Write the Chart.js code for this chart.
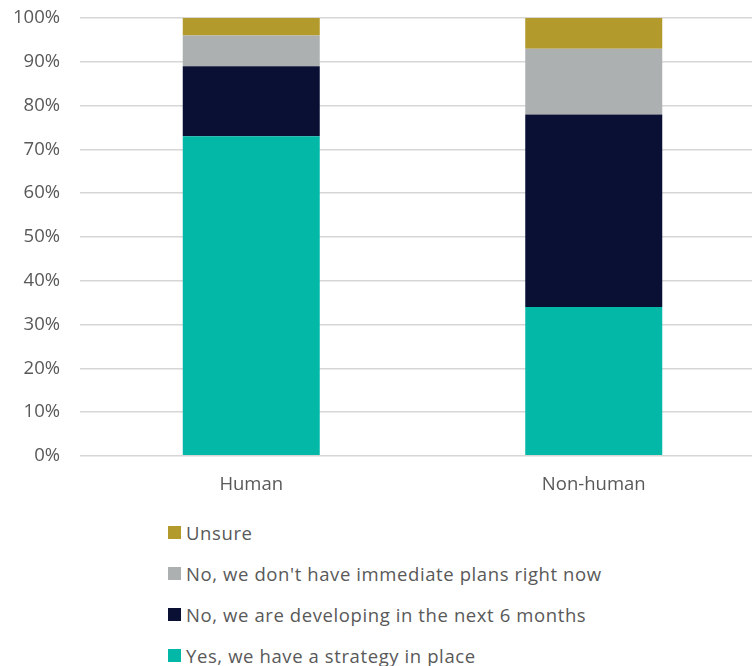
<!DOCTYPE html>
<html>
<head>
<meta charset="utf-8">
<script src="https://cdn.jsdelivr.net/npm/chart.js@4/dist/chart.umd.min.js"></script>
<style>
  html, body { margin: 0; padding: 0; background: #fff; }
  body { position: relative; width: 752px; height: 666px; overflow: hidden; font-family: 'Open Sans', sans-serif; }
  /* plot runs a little past the right edge so the bars sit where they should */
  .chart-wrap { position: absolute; left: 0; top: -13px; width: 765px; height: 526px; }
  #legend { list-style: none; margin: 0; padding: 0; position: absolute; left: 168px; top: 519px; }
  #legend li { display: flex; align-items: center; height: 26px; margin-bottom: 15px; color: #595959; font-size: 18.5px; letter-spacing: 0.6px; }
  #legend .swatch { width: 13px; height: 13px; margin-right: 5px; flex: none; }
</style>
</head>
<body>
<div class="chart-wrap"><canvas id="strategyChart"></canvas></div>
<ul id="legend"></ul>
<script>
// Share of respondents by strategy status, per identity type
const categories = ['Human', 'Non-human'];
const yesStrategy = [73, 34];
const developingSoon = [16, 44];
const noPlans = [7, 15];
const unsure = [4, 7];
const yTicks = [0, 10, 20, 30, 40, 50, 60, 70, 80, 90, 100];

const seriesNames = [
  'Yes, we have a strategy in place',
  'No, we are developing in the next 6 months',
  "No, we don't have immediate plans right now",
  'Unsure'
];
const seriesColors = ['#04b8a8', '#0a1033', '#adb0b0', '#b39a2c'];
const seriesValues = [yesStrategy, developingSoon, noPlans, unsure];

const textColor = '#595959';
const gridColor = '#d6d6d6';
const tickFont = { family: 'Open Sans', size: 18.5 };

const datasets = seriesNames.map((name, i) => ({
  label: name,
  data: seriesValues[i],
  backgroundColor: seriesColors[i],
  borderWidth: 0,
  categoryPercentage: 1,
  barPercentage: 0.4
}));

const chart = new Chart(document.getElementById('strategyChart'), {
  type: 'bar',
  data: { labels: categories, datasets },
  options: {
    responsive: true,
    maintainAspectRatio: false,
    animation: false,
    layout: { padding: { top: 8, right: 0, bottom: 7, left: 0 } },
    plugins: {
      legend: { display: false },
      tooltip: { enabled: false }
    },
    scales: {
      x: {
        stacked: true,
        grid: { display: false },
        border: { display: false },
        ticks: { color: textColor, font: tickFont, padding: 10 }
      },
      y: {
        stacked: true,
        min: 0,
        max: 100,
        afterBuildTicks: axis => { axis.ticks = yTicks.map(v => ({ value: v })); },
        afterFit: axis => { axis.width = 80; },
        grid: { color: gridColor, lineWidth: 1.5, drawTicks: false },
        border: { display: false },
        ticks: {
          color: textColor,
          font: tickFont,
          padding: 20,
          callback: v => v + '%'
        }
      }
    }
  }
});

// Legend listed top-down in reverse stack order
const legendEl = document.getElementById('legend');
chart.data.datasets.slice().reverse().forEach(ds => {
  const li = document.createElement('li');
  const sw = document.createElement('span');
  sw.className = 'swatch';
  sw.style.background = ds.backgroundColor;
  li.appendChild(sw);
  li.appendChild(document.createTextNode(ds.label));
  legendEl.appendChild(li);
});
</script>
</body>
</html>
